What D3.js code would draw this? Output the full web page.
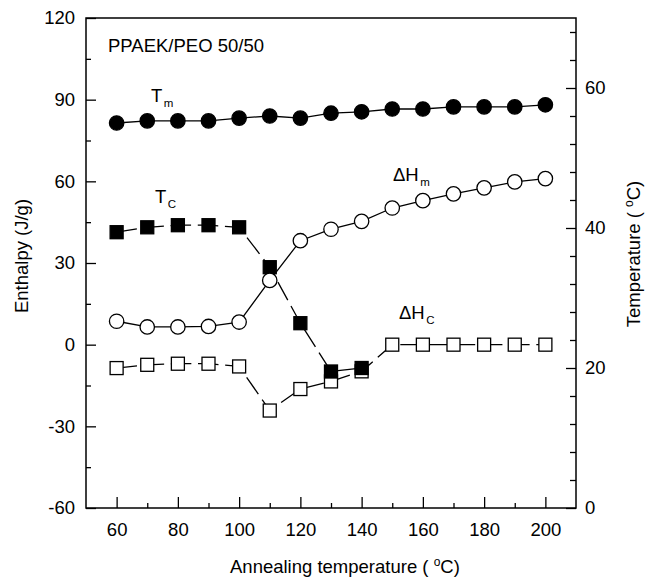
<!DOCTYPE html>
<html>
<head>
<meta charset="utf-8">
<script src="https://cdn.jsdelivr.net/npm/d3@7"></script>
<style>
	body { margin: 0; background: #fff; }
	svg text { font-family: "Liberation Sans", Arial, sans-serif; fill: #000; }
</style>
</head>
<body>
<script>
// _____________ data
var annealTemps = [60, 70, 80, 90, 100, 110, 120, 130, 140, 150, 160, 170, 180, 190, 200]
var tmValues = [55.0, 55.3, 55.3, 55.3, 55.7, 56.0, 55.7, 56.4, 56.6, 57.0, 57.0, 57.3, 57.3, 57.3, 57.6]
var tcTemps = [60, 70, 80, 90, 100, 110, 120, 130, 140]
var tcValues = [39.4, 40.1, 40.4, 40.4, 40.1, 34.4, 26.4, 19.5, 20.0]
var dHmValues = [8.6, 6.5, 6.5, 6.7, 8.3, 23.6, 38.2, 42.4, 45.3, 50.2, 52.9, 55.4, 57.6, 59.8, 61.0]
var dHcValues = [-8.6, -7.4, -7.0, -7.0, -8.0, -24.2, -16.3, -13.5, -9.8, 0, 0, 0, 0, 0, 0]

var xMajorTicks = [60, 80, 100, 120, 140, 160, 180, 200]
var xMinorTicks = [70, 90, 110, 130, 150, 170, 190]
var enthalpyTicks = [-60, -30, 0, 30, 60, 90, 120]
var enthalpyMinor = [-45, -15, 15, 45, 75, 105]
var tempTicks = [0, 20, 40, 60]
var tempMinor = [4, 8, 12, 16, 24, 28, 32, 36, 44, 48, 52, 56, 64, 68]

// _____________ layout
var width = 645, height = 579
var plotL = 86, plotR = 576, plotT = 18, plotB = 508
var dash = "20.5,6.7"

var svg = d3.select('body')
	.append('svg')
		.attr('width', width)
		.attr('height', height)

var x = d3.scaleLinear().domain([50, 210]).range([plotL, plotR])
var yH = d3.scaleLinear().domain([-60, 120]).range([plotB, plotT])
var yT = d3.scaleLinear().domain([0, 70]).range([plotB, plotT])

// _______________________ axes
function styleAxis(g) {
	g.select('.domain').remove()
	g.selectAll('.tick line').attr('stroke', '#000').attr('stroke-width', 1.3)
	g.selectAll('.tick text').style('font-size', '18.5px').attr('fill', '#000')
}

svg.append('g')
	.attr('transform', 'translate(0,' + plotB + ')')
	.call(d3.axisBottom(x).tickValues(xMajorTicks).tickSize(-11).tickPadding(15).tickFormat(String))
	.call(styleAxis)
svg.append('g')
	.attr('transform', 'translate(0,' + plotB + ')')
	.call(d3.axisBottom(x).tickValues(xMinorTicks).tickSize(-5).tickFormat(''))
	.call(styleAxis)

svg.append('g')
	.attr('transform', 'translate(' + plotL + ',0)')
	.call(d3.axisLeft(yH).tickValues(enthalpyTicks).tickSize(-10).tickPadding(11).tickFormat(String))
	.call(styleAxis)
svg.append('g')
	.attr('transform', 'translate(' + plotL + ',0)')
	.call(d3.axisLeft(yH).tickValues(enthalpyMinor).tickSize(-5).tickFormat(''))
	.call(styleAxis)

svg.append('g')
	.attr('transform', 'translate(' + plotR + ',0)')
	.call(d3.axisRight(yT).tickValues(tempTicks).tickSize(-10).tickPadding(9).tickFormat(String))
	.call(styleAxis)
svg.append('g')
	.attr('transform', 'translate(' + plotR + ',0)')
	.call(d3.axisRight(yT).tickValues(tempMinor).tickSize(-6).tickFormat(''))
	.call(styleAxis)

// frame
svg.append('rect')
	.attr('x', plotL).attr('y', plotT)
	.attr('width', plotR - plotL).attr('height', plotB - plotT)
	.attr('fill', 'none').attr('stroke', '#000').attr('stroke-width', 1.5)

// _______________________ series
function drawLine(xs, ys, yScale, dashed) {
	var pts = xs.map(function (d, i) { return [d, ys[i]] })
	var line = d3.line()
		.x(function (d) { return x(d[0]) })
		.y(function (d) { return yScale(d[1]) })
	svg.append('path')
		.datum(pts)
		.attr('d', line)
		.attr('fill', 'none')
		.attr('stroke', '#000')
		.attr('stroke-width', 1.3)
		.attr('stroke-dasharray', dashed ? dash : null)
	return pts
}

function drawSquares(pts, yScale, fill) {
	svg.append('g').selectAll('rect')
		.data(pts)
		.enter()
		.append('rect')
			.attr('x', function (d) { return x(d[0]) - 6.5 })
			.attr('y', function (d) { return yScale(d[1]) - 6.5 })
			.attr('width', 13)
			.attr('height', 13)
			.attr('fill', fill)
			.attr('stroke', '#000')
			.attr('stroke-width', 1.3)
}

function drawCircles(pts, yScale, fill) {
	svg.append('g').selectAll('circle')
		.data(pts)
		.enter()
		.append('circle')
			.attr('cx', function (d) { return x(d[0]) })
			.attr('cy', function (d) { return yScale(d[1]) })
			.attr('r', 7.2)
			.attr('fill', fill)
			.attr('stroke', '#000')
			.attr('stroke-width', 1.3)
}

var dHcPts = drawLine(annealTemps, dHcValues, yH, true)
drawSquares(dHcPts, yH, '#fff')

var tcPts = drawLine(tcTemps, tcValues, yT, true)
drawSquares(tcPts, yT, '#000')

var dHmPts = drawLine(annealTemps, dHmValues, yH, false)
drawCircles(dHmPts, yH, '#fff')

var tmPts = drawLine(annealTemps, tmValues, yT, false)
drawCircles(tmPts, yT, '#000')

// _______________________ labels
function subLabel(px, py, main, sub) {
	var t = svg.append('text')
		.attr('x', px).attr('y', py)
		.style('font-size', '18.5px')
	t.append('tspan').text(main)
	t.append('tspan').text(sub).attr('dy', 5).attr('dx', 1.5).style('font-size', '11.5px')
}

svg.append('text')
	.attr('x', 108).attr('y', 52)
	.style('font-size', '18.5px')
	.text('PPAEK/PEO 50/50')

subLabel(151, 101.7, 'T', 'm')
subLabel(155, 203.3, 'T', 'C')
subLabel(393, 180.7, '\u0394H', 'm')
subLabel(399, 319, '\u0394H', 'C')

// axis titles
var xt = svg.append('text')
	.attr('x', 230).attr('y', 573)
	.style('font-size', '18.5px')
xt.append('tspan').text('Annealing temperature ( ')
xt.append('tspan').text('o').attr('dy', -7).style('font-size', '12px')
xt.append('tspan').text('C)').attr('dy', 7)

svg.append('text')
	.attr('transform', 'translate(28,256) rotate(-90)')
	.attr('text-anchor', 'middle')
	.style('font-size', '18.5px')
	.text('Enthalpy (J/g)')

var yt = svg.append('text')
	.attr('transform', 'translate(640,254) rotate(-90)')
	.attr('text-anchor', 'middle')
	.style('font-size', '18.5px')
yt.append('tspan').text('Temperature ( ')
yt.append('tspan').text('o').attr('dy', -7).style('font-size', '12px')
yt.append('tspan').text('C)').attr('dy', 7)
</script>
</body>
</html>
